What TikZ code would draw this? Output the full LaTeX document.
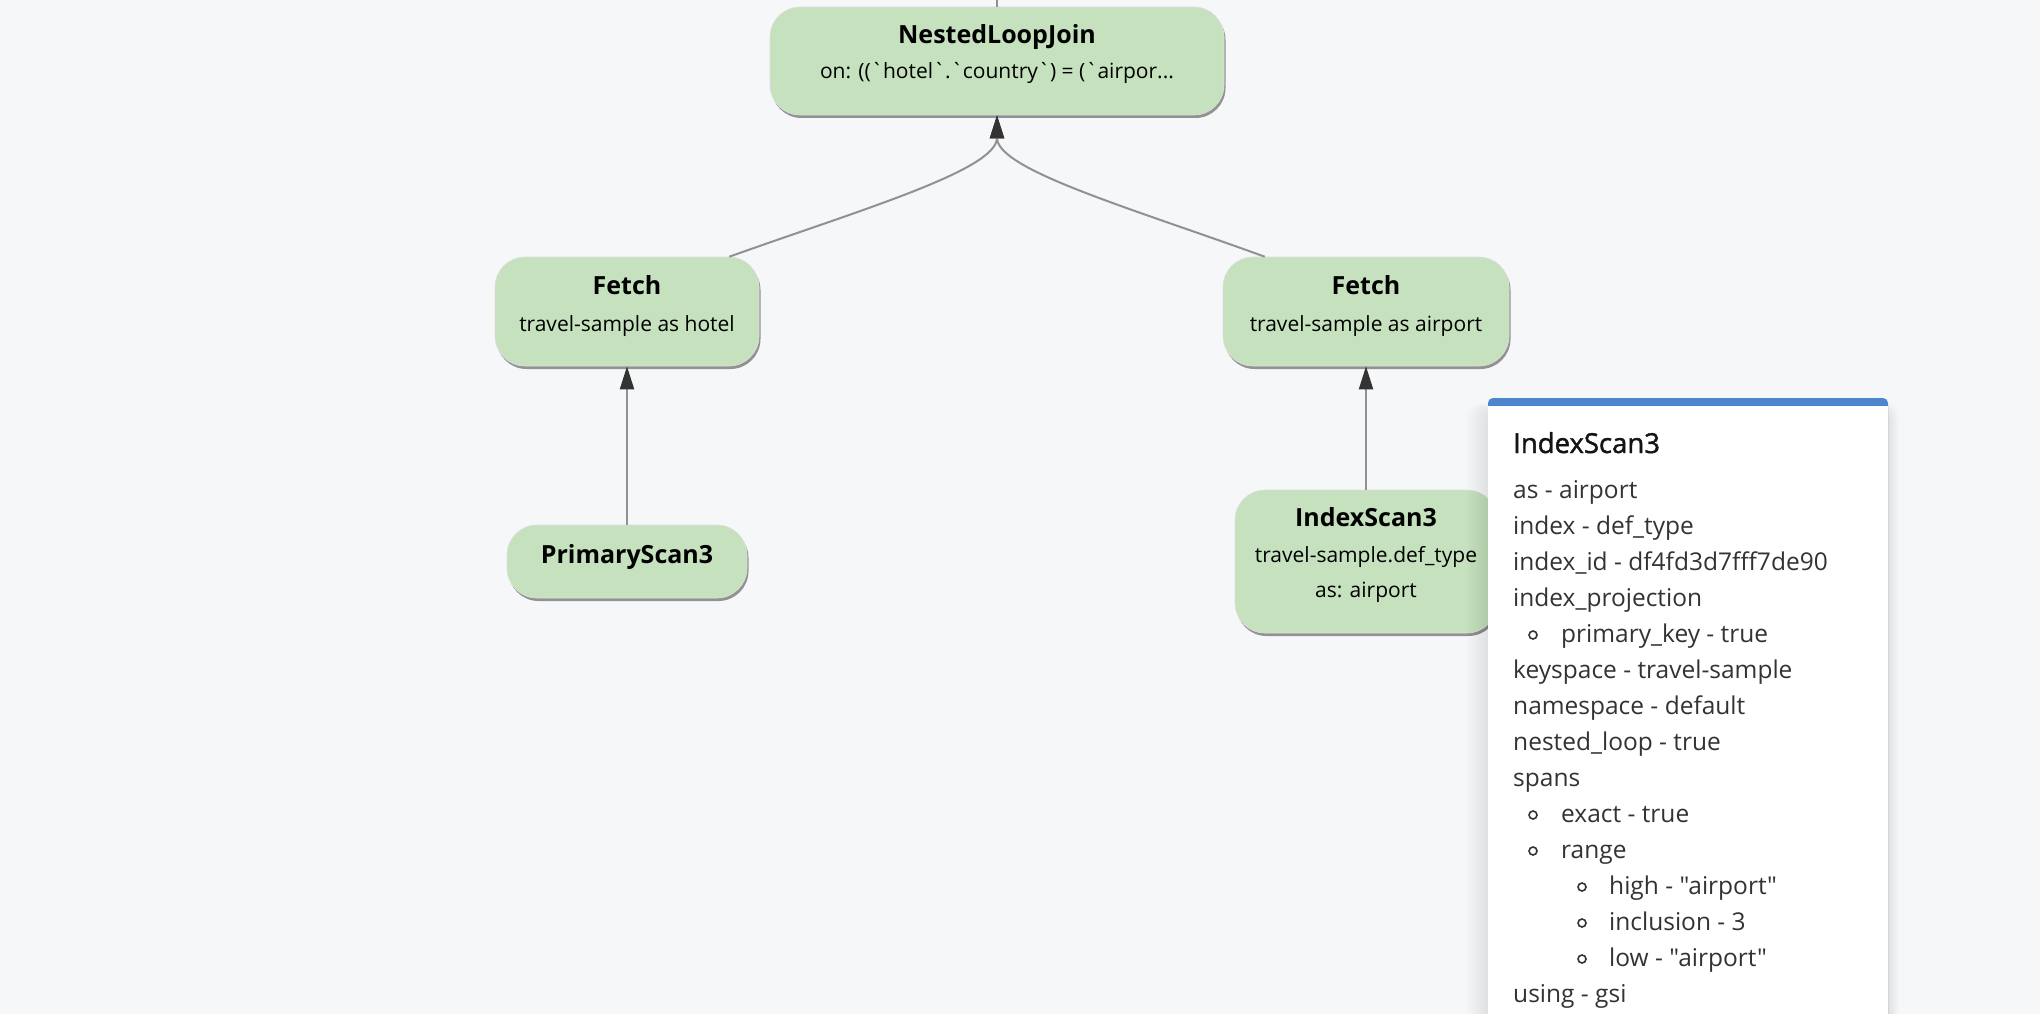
\documentclass[tikz,border=0pt]{standalone}
\usepackage{fontspec}
\setmainfont{Open Sans}[Ligatures=TeXOff]
\newfontfamily\panelheadfont{Open Sans}[FakeBold=1.5]
\usetikzlibrary{arrows.meta,shadows,calc}
\definecolor{bg}{RGB}{246,247,249}
\definecolor{nodegreen}{RGB}{197,225,190}
\definecolor{edgegray}{RGB}{145,145,145}
\definecolor{tipdark}{RGB}{51,51,51}
\definecolor{panelblue}{RGB}{78,134,206}
\definecolor{paneltext}{RGB}{51,51,51}
\begin{document}
\begin{tikzpicture}[x=1pt,y=-1pt,
 opbox/.style={draw=black!12, line width=0.6pt, fill=nodegreen, rounded corners=30pt, inner sep=0pt,
   drop shadow={shadow xshift=1.5pt, shadow yshift=-3pt, opacity=0.55, fill=black!75}},
 optitle/.style={anchor=base, inner sep=0pt, font=\fontsize{25}{30}\selectfont\bfseries, text=black},
 opsub/.style={anchor=base, inner sep=0pt, font=\fontsize{21}{25}\selectfont, text=black},
 flow/.style={draw=edgegray, line width=2pt, -{Triangle[length=23pt,width=14pt,color=tipdark]}},
 plainedge/.style={draw=edgegray, line width=2pt},
 ptitle/.style={anchor=base west, inner sep=0pt, font=\fontsize{27.5}{32}\panelheadfont, text=black!92},
 pline/.style={anchor=base west, inner sep=0pt, font=\fontsize{24.5}{30}\selectfont, text=paneltext},
 pbullet/.style={circle, draw=paneltext, line width=1.6pt, minimum size=8pt, inner sep=0pt},
]
\fill[bg] (0,0) rectangle (2040,1014);
\useasboundingbox (0,0) rectangle (2040,1014);

% operator boxes
\node[opbox, minimum width=454pt, minimum height=108pt] (nlj) at (997,61) {};
\node[optitle] (nljT) at (997,44) {NestedLoopJoin};
\node[opsub] (nljS) at (997,79) {on: ((`hotel`.`country`) = (`airpor...};

\node[opbox, minimum width=264pt, minimum height=109pt] (fh) at (627,311.5) {};
\node[optitle] (fhT) at (627,294) {Fetch};
\node[opsub] (fhS) at (627,331) {travel-sample as hotel};

\node[opbox, minimum width=286pt, minimum height=109pt] (fa) at (1366,311.5) {};
\node[optitle] (faT) at (1366,294) {Fetch};
\node[opsub] (faS) at (1366,331) {travel-sample as airport};

\node[opbox, minimum width=240pt, minimum height=73pt] (ps) at (627,561.5) {};
\node[optitle] (psT) at (627,563) {PrimaryScan3};

\node[opbox, minimum width=262pt, minimum height=143pt] (is) at (1366,561.5) {};
\node[optitle] (isT) at (1366,526) {IndexScan3};
\node[opsub] (isS1) at (1366,562) {travel-sample.def\_type};
\node[opsub] (isS2) at (1366,597) {as: airport};

% connectors
\coordinate (topend) at (997,0);
\draw[plainedge] (nlj.north) -- (topend);
\draw[flow] ([xshift=-30pt]fh.north east) .. controls (860,210) and (997,170) .. (nlj.south);
\draw[flow] ([xshift=42pt]fa.north west) .. controls (1134,209) and (997,170) .. (nlj.south);
\draw[flow] (ps.north) -- (fh.south);
\draw[flow] (is.north) -- (fa.south);

% details panel with soft shadow
\foreach \i in {1,...,22}
  \fill[black, opacity=0.0045, rounded corners=12pt] (1488-\i,410-0.3*\i) rectangle (1888+0.5*\i,1060);
\fill[panelblue, rounded corners=5pt] (1488,398) rectangle (1888,1030);
\fill[white] (1488,406) rectangle (1888,1030);

\node[ptitle] (pT) at (1513,453) {IndexScan3};
\node[pline] (p1) at (1513,498) {as - airport};
\node[pline] (p2) at (1513,534) {index - def\_type};
\node[pline] (p3) at (1513,570) {index\_id - df4fd3d7fff7de90};
\node[pline] (p4) at (1513,606) {index\_projection};
\node[pbullet] (b4) at (1533,635) {};
\node[pline] (p5) at (1561,642) {primary\_key - true};
\node[pline] (p6) at (1513,678) {keyspace - travel-sample};
\node[pline] (p7) at (1513,714) {namespace - default};
\node[pline] (p8) at (1513,750) {nested\_loop - true};
\node[pline] (p9) at (1513,786) {spans};
\node[pbullet] (b10) at (1533,815) {};
\node[pline] (p10) at (1561,822) {exact - true};
\node[pbullet] (b11) at (1533,851) {};
\node[pline] (p11) at (1561,858) {range};
\node[pbullet] (b12) at (1582,887) {};
\node[pline] (p12) at (1609,894) {high - "airport"};
\node[pbullet] (b13) at (1582,923) {};
\node[pline] (p13) at (1609,930) {inclusion - 3};
\node[pbullet] (b14) at (1582,959) {};
\node[pline] (p14) at (1609,966) {low - "airport"};
\node[pline] (p15) at (1513,1002) {using - gsi};
\end{tikzpicture}
\end{document}
